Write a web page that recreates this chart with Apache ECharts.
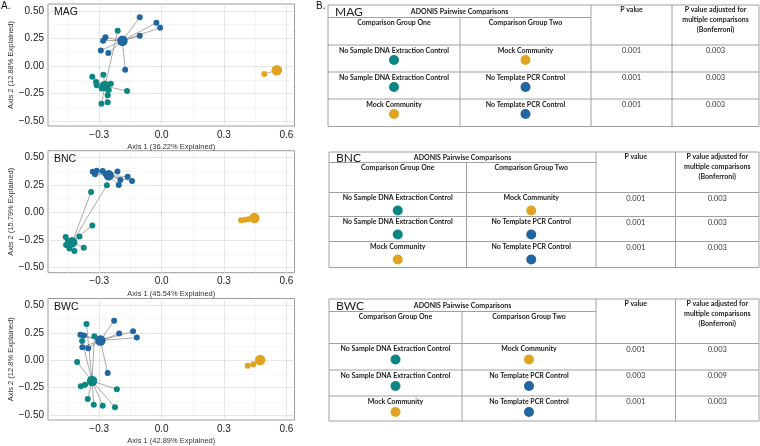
<!DOCTYPE html>
<html><head><meta charset="utf-8">
<script src="https://cdn.jsdelivr.net/npm/echarts@6/dist/echarts.min.js"></script>
<style>html,body{margin:0;padding:0;background:#fff}#c{width:760px;height:446px}</style>
</head><body><div id="c"></div>
<script>
// ---------- data ----------
const panelNames = ['MAG', 'BNC', 'BWC'];
const xTitles = ['Axis 1 (36.22% Explained)', 'Axis 1 (45.54% Explained)', 'Axis 1 (42.89% Explained)'];
const yTitles = ['Axis 2 (12.88% Explained)', 'Axis 2 (15.79% Explained)', 'Axis 2 (12.8% Explained)'];
const xTicks = [-0.3, 0.0, 0.3, 0.6];
const yTicks = [-0.5, -0.25, 0.0, 0.25, 0.5];
const xMinorGrid = [-0.45, -0.15, 0.15, 0.45];
const yMinorGrid = [-0.375, -0.125, 0.125, 0.375];
const groupNames = ['No Sample DNA Extraction Control', 'No Template PCR Control', 'Mock Community'];

// MAG
const magTealPts = [[-0.211,0.321],[-0.280,-0.079],[-0.333,-0.097],[-0.315,-0.145],[-0.312,-0.175],[-0.244,-0.161],[-0.166,-0.227],[-0.254,-0.218],[-0.259,-0.266],[-0.289,-0.343],[-0.259,-0.330],[-0.288,-0.203]];
const magTealCen = [-0.272,-0.182];
const magBluePts = [[-0.105,0.443],[-0.025,0.394],[-0.007,0.348],[-0.105,0.276],[-0.270,0.261],[-0.281,0.230],[-0.292,0.142],[-0.256,0.118],[-0.175,-0.034]];
const magBlueCen = [-0.188,0.230];
const magGoldPts = [[0.494,-0.073],[0.565,-0.035]];
const magGoldCen = [0.554,-0.039];
// BNC
const bncTealPts = [[-0.263,0.249],[-0.339,0.188],[-0.333,-0.115],[-0.395,-0.215],[-0.461,-0.221],[-0.374,-0.318],[-0.419,-0.348],[-0.459,-0.294],[-0.443,-0.324],[-0.450,-0.260]];
const bncTealCen = [-0.430,-0.269];
const bncBluePts = [[-0.331,0.373],[-0.312,0.382],[-0.320,0.349],[-0.283,0.379],[-0.212,0.376],[-0.198,0.297],[-0.206,0.252],[-0.163,0.327],[-0.142,0.288],[-0.270,0.355]];
const bncBlueCen = [-0.254,0.340];
const bncGoldPts = [[0.382,-0.069],[0.401,-0.064],[0.417,-0.060]];
const bncGoldCen = [0.446,-0.048];
// BWC
const bwcTealPts = [[-0.361,0.332],[-0.382,0.177],[-0.323,0.220],[-0.406,-0.016],[-0.388,-0.238],[-0.368,-0.223],[-0.215,-0.265],[-0.355,-0.353],[-0.326,-0.405],[-0.283,-0.414],[-0.224,-0.429]];
const bwcTealCen = [-0.334,-0.189];
const bwcBluePts = [[-0.228,0.362],[-0.204,0.244],[-0.137,0.265],[-0.119,0.207],[-0.390,0.232],[-0.373,0.226],[-0.381,0.120],[-0.353,0.111],[-0.259,-0.116]];
const bwcBlueCen = [-0.294,0.180];
const bwcGoldPts = [[0.414,-0.050],[0.441,-0.035]];
const bwcGoldCen = [0.474,0.002];

// tables
const compGroupOne = ['No Sample DNA Extraction Control', 'No Sample DNA Extraction Control', 'Mock Community'];
const compGroupTwo = ['Mock Community', 'No Template PCR Control', 'No Template PCR Control'];
const magP = ['0.001', '0.001', '0.001'];
const magPadj = ['0.003', '0.003', '0.003'];
const bncP = ['0.001', '0.001', '0.001'];
const bncPadj = ['0.003', '0.003', '0.003'];
const bwcP = ['0.001', '0.003', '0.001'];
const bwcPadj = ['0.003', '0.009', '0.003'];

// ---------- styling / layout ----------
const TEAL = '#0b8682', BLUE = '#2166a0', GOLD = '#e0a422';
const groupColor = {
  'No Sample DNA Extraction Control': TEAL,
  'No Template PCR Control': BLUE,
  'Mock Community': GOLD
};
const panels = [
  {teal: magTealPts, tealC: magTealCen, blue: magBluePts, blueC: magBlueCen, gold: magGoldPts, goldC: magGoldCen},
  {teal: bncTealPts, tealC: bncTealCen, blue: bncBluePts, blueC: bncBlueCen, gold: bncGoldPts, goldC: bncGoldCen},
  {teal: bwcTealPts, tealC: bwcTealCen, blue: bwcBluePts, blueC: bwcBlueCen, gold: bwcGoldPts, goldC: bwcGoldCen}
];
const gridTops = [4, 150.7, 298.5];
const XMIN = -0.546, XMAX = 0.639, YMIN = -0.545, YMAX = 0.564;

const grids = [], xAxes = [], yAxes = [], series = [], graphics = [];
const fmtX = v => (v < 0 ? '\u2212' : '') + Math.abs(v).toFixed(1);
const fmtY = v => (v < 0 ? '\u2212' : '') + Math.abs(v).toFixed(2);

panels.forEach((p, i) => {
  grids.push({left: 48, right: 465.5, top: gridTops[i], height: 122, show: true,
    borderColor: '#9a9a9a', borderWidth: 1, backgroundColor: '#fff'});
  xAxes.push({gridIndex: i, type: 'value', min: XMIN, max: XMAX,
    axisLine: {show: false}, splitLine: {show: false},
    axisTick: {show: true, customValues: xTicks, length: 3, lineStyle: {color: '#444'}},
    axisLabel: {customValues: xTicks, formatter: fmtX, fontSize: 10, color: '#1a1a1a', margin: 4, fontFamily: 'Liberation Sans'},
    name: xTitles[i], nameLocation: 'middle', nameGap: 17,
    nameTextStyle: {fontSize: 7.5, color: '#333', fontFamily: 'Liberation Sans'}});
  yAxes.push({gridIndex: i, type: 'value', min: YMIN, max: YMAX,
    axisLine: {show: false}, splitLine: {show: false},
    axisTick: {show: true, customValues: yTicks, length: 3, lineStyle: {color: '#444'}},
    axisLabel: {customValues: yTicks, formatter: fmtY, fontSize: 10, color: '#1a1a1a', margin: 4, fontFamily: 'Liberation Sans'},
    name: yTitles[i], nameLocation: 'middle', nameGap: 33, nameRotate: 90,
    nameTextStyle: {fontSize: 7.5, color: '#333', fontFamily: 'Liberation Sans'}});

  // gridlines via markLine
  const ml = [];
  xMinorGrid.forEach(v => ml.push({xAxis: v, lineStyle: {color: '#f0f0f0', width: 0.6}}));
  yMinorGrid.forEach(v => ml.push({yAxis: v, lineStyle: {color: '#f0f0f0', width: 0.6}}));
  xTicks.forEach(v => ml.push({xAxis: v, lineStyle: {color: '#e3e3e3', width: 0.9}}));
  yTicks.forEach(v => ml.push({yAxis: v, lineStyle: {color: '#e3e3e3', width: 0.9}}));
  series.push({type: 'scatter', xAxisIndex: i, yAxisIndex: i, data: [], z: 1, silent: true,
    markLine: {silent: true, z: 1, symbol: ['none', 'none'], label: {show: false}, animation: false,
      lineStyle: {type: 'solid'}, data: ml}});

  // connectors
  const segs = [];
  [[p.teal, p.tealC], [p.blue, p.blueC], [p.gold, p.goldC]].forEach(([pts, c]) => {
    pts.forEach(pt => segs.push({coords: [c, pt]}));
  });
  series.push({type: 'lines', coordinateSystem: 'cartesian2d', xAxisIndex: i, yAxisIndex: i, z: 2, silent: true,
    lineStyle: {color: '#858585', width: 0.7, opacity: 1}, data: segs});

  // points
  [[p.teal, TEAL], [p.blue, BLUE], [p.gold, GOLD]].forEach(([pts, col]) => {
    series.push({type: 'scatter', xAxisIndex: i, yAxisIndex: i, z: 3, symbolSize: 6,
      itemStyle: {color: col, opacity: 1}, data: pts});
  });
  [[p.tealC, TEAL], [p.blueC, BLUE], [p.goldC, GOLD]].forEach(([c, col]) => {
    series.push({type: 'scatter', xAxisIndex: i, yAxisIndex: i, z: 4, symbolSize: 10.5,
      itemStyle: {color: col, opacity: 1}, data: [c]});
  });

  graphics.push({type: 'text', left: 54, top: gridTops[i] + 3, z: 10,
    style: {text: panelNames[i], font: '10.5px "Liberation Sans"', fill: '#111'}});
});

graphics.push({type: 'text', left: 1, top: 1, style: {text: 'A.', font: '10px "Liberation Sans"', fill: '#111'}});
graphics.push({type: 'text', left: 316, top: 1, style: {text: 'B.', font: '10px "Liberation Sans"', fill: '#111'}});

// ---------- tables ----------
const tableLayouts = [
  {left: 328, top: 5, right: 759, bottom: 126.5, head: 17.5, cols: [460, 591, 672], rows: [45, 72, 99], circ: 9.5},
  {left: 329, top: 152, right: 759, bottom: 267.5, head: 162.5, cols: [466.5, 596, 675.5], rows: [192.5, 216.5, 241.5], circ: 12.5},
  {left: 329, top: 299, right: 759, bottom: 421, head: 311.5, cols: [462, 596, 675.5], rows: [343.5, 370, 396], circ: 10.5}
];
const tableP = [magP, bncP, bwcP];
const tablePadj = [magPadj, bncPadj, bwcPadj];
const LINE = '#a0a0a0';
const BFONT = 'bold 7px Lato';
const NFONT = '7.5px Lato';
function txt(x, y, s, font, fill) {
  return {type: 'text', z: 20, style: {text: s, x: x, y: y, font: font, fill: fill || '#1a1a1a',
    align: 'center', verticalAlign: 'middle', textAlign: 'center', textVerticalAlign: 'middle'}};
}
function ln(x1, y1, x2, y2) {
  return {type: 'line', z: 15, shape: {x1: x1, y1: y1, x2: x2, y2: y2}, style: {stroke: LINE, lineWidth: 1}};
}
tableLayouts.forEach((L, t) => {
  graphics.push({type: 'rect', z: 15, shape: {x: L.left, y: L.top, width: L.right - L.left, height: L.bottom - L.top},
    style: {stroke: LINE, fill: 'none', lineWidth: 1}});
  graphics.push(ln(L.left, L.head, L.cols[1], L.head));
  graphics.push(ln(L.cols[0], L.head, L.cols[0], L.bottom));
  graphics.push(ln(L.cols[1], L.top, L.cols[1], L.bottom));
  graphics.push(ln(L.cols[2], L.top, L.cols[2], L.bottom));
  L.rows.forEach(r => graphics.push(ln(L.left, r, L.right, r)));
  graphics.push({type: 'text', z: 20, style: {text: panelNames[t], x: L.left + 7, y: (L.top + L.head) / 2 + 0.5,
    font: '12px Lato', fill: '#222', verticalAlign: 'middle', textVerticalAlign: 'middle'}});
  graphics.push(txt((L.left + L.cols[1]) / 2, (L.top + L.head) / 2 + 0.5, 'ADONIS Pairwise Comparisons', BFONT));
  graphics.push(txt((L.left + L.cols[0]) / 2, L.head + 5.5, 'Comparison Group One', BFONT));
  graphics.push(txt((L.cols[0] + L.cols[1]) / 2, L.head + 5.5, 'Comparison Group Two', BFONT));
  graphics.push(txt((L.cols[1] + L.cols[2]) / 2, L.top + 5, 'P value', BFONT));
  graphics.push(txt((L.cols[2] + L.right) / 2, L.top + 5, 'P value adjusted for', BFONT));
  graphics.push(txt((L.cols[2] + L.right) / 2, L.top + 15, 'multiple comparisons', BFONT));
  graphics.push(txt((L.cols[2] + L.right) / 2, L.top + 25, '(Bonferroni)', BFONT));
  L.rows.forEach((r, k) => {
    const ty = r + 5.5;
    graphics.push(txt((L.left + L.cols[0]) / 2, ty, compGroupOne[k], BFONT));
    graphics.push(txt((L.cols[0] + L.cols[1]) / 2, ty, compGroupTwo[k], BFONT));
    graphics.push({type: 'circle', z: 20, shape: {cx: (L.left + L.cols[0]) / 2, cy: ty + L.circ, r: 5},
      style: {fill: groupColor[compGroupOne[k]]}});
    graphics.push({type: 'circle', z: 20, shape: {cx: (L.cols[0] + L.cols[1]) / 2, cy: ty + L.circ, r: 5},
      style: {fill: groupColor[compGroupTwo[k]]}});
    graphics.push(txt((L.cols[1] + L.cols[2]) / 2, ty + 0.5, tableP[t][k], NFONT, '#333'));
    graphics.push(txt((L.cols[2] + L.right) / 2, ty + 0.5, tablePadj[t][k], NFONT, '#333'));
  });
});

const chart = echarts.init(document.getElementById('c'), null, {renderer: 'canvas'});
chart.setOption({
  animation: false,
  backgroundColor: '#fff',
  grid: grids, xAxis: xAxes, yAxis: yAxes, series: series, graphic: graphics
});
</script></body></html>
